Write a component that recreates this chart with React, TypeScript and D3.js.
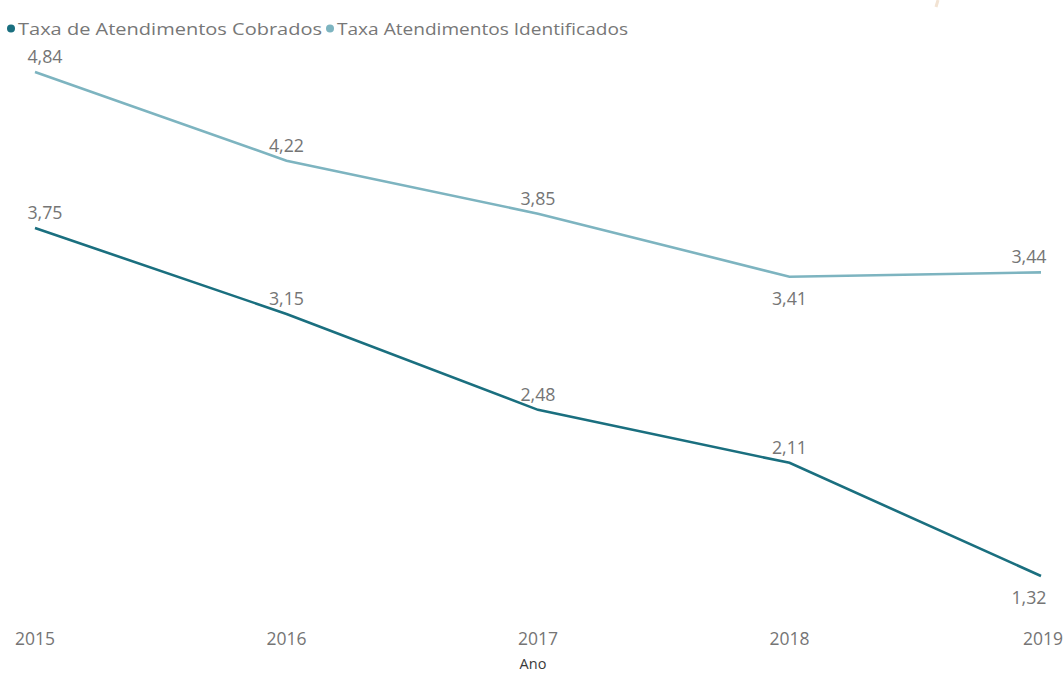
import React from "react";
import * as d3 from "d3";

const years = ["2015", "2016", "2017", "2018", "2019"];
const cobrados = [3.75, 3.15, 2.48, 2.11, 1.32];
const identificados = [4.84, 4.22, 3.85, 3.41, 3.44];
const seriesNames = ["Taxa de Atendimentos Cobrados", "Taxa Atendimentos Identificados"];
const axisTitle = "Ano";
// label placement: "above" or "below" the point (style, not data)
const cobradosPos = ["above", "above", "above", "above", "below"];
const identificadosPos = ["above", "above", "above", "below", "above"];

const W = 1064;
const H = 675;
const COLORS = ["#1a6f7f", "#7db4c0"];
const FONT = "'Open Sans', 'Noto Sans', sans-serif";

export default function App() {
  const x = d3.scalePoint<string>().domain(years).range([35, 1041]);
  const y = d3.scaleLinear().domain([0, 5]).range([765, 765 - 5 * 143.2]);
  const line = d3
    .line<number>()
    .x((_, i) => x(years[i]) as number)
    .y((d) => y(d));

  const fmt = (v: number) => d3.format(".2f")(v).replace(".", ",");

  const labels = (vals: number[], pos: string[], key: string) =>
    vals.map((v, i) => {
      const px = x(years[i]) as number;
      const py = y(v);
      const cx = Math.max(27 + 18, Math.min(1047 - 18, px));
      return (
        <text
          key={key + i}
          x={cx}
          y={pos[i] === "above" ? py - 9 : py + 28}
          textAnchor="middle"
          fontFamily={FONT}
          fontSize={17.8}
          fill="#757575"
        >
          {fmt(v)}
        </text>
      );
    });

  return (
    <svg
      width={W}
      height={H}
      style={{ position: "absolute", left: 0, top: 0, background: "#fff" }}
    >
      <line x1={938} y1={0} x2={936} y2={7} stroke="#f2e3d3" strokeWidth={3} />
      {/* legend */}
      <g fontFamily={FONT} fontSize={17} fill="#777">
        <circle cx={11} cy={28.5} r={4} fill={COLORS[0]} />
        <text x={18} y={35} textLength={304} lengthAdjust="spacingAndGlyphs">{seriesNames[0]}</text>
        <circle cx={330} cy={28.5} r={4} fill={COLORS[1]} />
        <text x={337} y={35} textLength={291} lengthAdjust="spacingAndGlyphs">{seriesNames[1]}</text>
      </g>
      <path d={line(identificados) || ""} fill="none" stroke={COLORS[1]} strokeWidth={2.6} />
      <path d={line(cobrados) || ""} fill="none" stroke={COLORS[0]} strokeWidth={2.6} />
      {labels(identificados, identificadosPos, "i")}
      {labels(cobrados, cobradosPos, "c")}
      {/* x axis */}
      <g fontFamily={FONT} fontSize={17.5} fill="#757575">
        {years.map((yr, i) => (
          <text
            key={yr}
            x={x(yr) as number}
            y={645}
            textAnchor={i === 0 ? "start" : i === years.length - 1 ? "end" : "middle"}
            dx={i === 0 ? -20 : i === years.length - 1 ? 22 : 0}
          >
            {yr}
          </text>
        ))}
      </g>
      <text x={533} y={669} textAnchor="middle" fontFamily={FONT} fontSize={14.5} fill="#3a3a3a">
        {axisTitle}
      </text>
    </svg>
  );
}
